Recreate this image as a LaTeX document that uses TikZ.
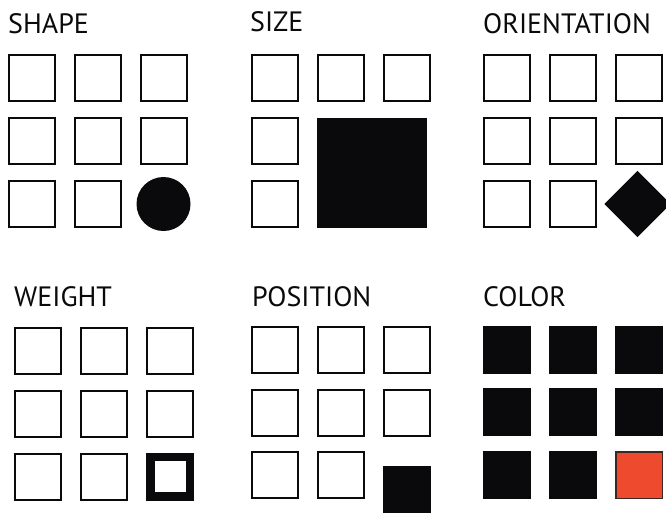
\documentclass[tikz,border=0pt]{standalone}
\usepackage{fontspec}
\setmainfont{PT Sans}
\definecolor{ink}{RGB}{10,10,12}
\definecolor{redfill}{RGB}{238,74,46}
\definecolor{redline}{RGB}{60,40,35}
\begin{document}
\begin{tikzpicture}[x=1pt,y=-1pt,
  box/.style={draw=ink,line width=2pt,fill=white,minimum size=46pt,inner sep=0pt,rectangle},
  solid/.style={fill=ink,draw=none,minimum size=48pt,inner sep=0pt,rectangle},
  title/.style={anchor=base west,inner sep=0pt,font=\fontsize{28}{30}\selectfont,text=ink}]
\clip (0,0) rectangle (666,512);
\fill[white] (0,0) rectangle (666,512);
% titles
\node[title] (tshape) at (8,33) {SHAPE};
\node[title] (tsize) at (250,31) {SIZE};
\node[title] (torient) at (483,33) {ORIENTATION};
\node[title] (tweight) at (14,306.5) {WEIGHT};
\node[title] (tpos) at (252,306.5) {POSITION};
\node[title] (tcolor) at (483,306.5) {COLOR};
% SHAPE
\foreach \c/\x in {1/32,2/98,3/163.5}{
  \node[box] (sh1\c) at (\x,78) {};
  \node[box] (sh2\c) at (\x,141) {};
}
\node[box] (sh31) at (32,204) {};
\node[box] (sh32) at (98,204) {};
\node[circle,fill=ink,minimum size=54pt,inner sep=0pt] (sh33) at (163.5,204) {};
% SIZE
\foreach \c/\x in {1/275,2/341,3/407}{
  \node[box] (si1\c) at (\x,78) {};
}
\node[box] (si21) at (275,141) {};
\node[box] (si31) at (275,204) {};
\node[solid,minimum size=110pt] (sibig) at (372,172.5) {};
% ORIENTATION
\foreach \c/\x in {1/507,2/573,3/639}{
  \node[box] (or1\c) at (\x,78) {};
  \node[box] (or2\c) at (\x,141) {};
}
\node[box] (or31) at (507,204) {};
\node[box] (or32) at (573,204) {};
\node[solid,minimum size=46.7pt,rotate=45] (or33) at (637.5,204) {};
% WEIGHT
\foreach \c/\x in {1/38,2/104,3/170}{
  \node[box] (we1\c) at (\x,351) {};
  \node[box] (we2\c) at (\x,414) {};
}
\node[box] (we31) at (38,476.5) {};
\node[box] (we32) at (104,476.5) {};
\node[box,line width=8.5pt,minimum size=39.5pt] (we33) at (170,476.5) {};
% POSITION
\foreach \c/\x in {1/275,2/341,3/407}{
  \node[box] (po1\c) at (\x,350) {};
  \node[box] (po2\c) at (\x,412.5) {};
}
\node[box] (po31) at (275,475) {};
\node[box] (po32) at (341,475) {};
\node[solid] (po33) at (406.5,490) {};
% COLOR
\foreach \c/\x in {1/507,2/573,3/639}{
  \node[solid] (co1\c) at (\x,349.7) {};
  \node[solid] (co2\c) at (\x,412) {};
}
\node[solid] (co31) at (507,475) {};
\node[solid] (co32) at (573,475) {};
\node[rectangle,fill=redfill,draw=redline,line width=1.5pt,minimum size=46.5pt,inner sep=0pt] (co33) at (639,475) {};
\end{tikzpicture}
\end{document}
